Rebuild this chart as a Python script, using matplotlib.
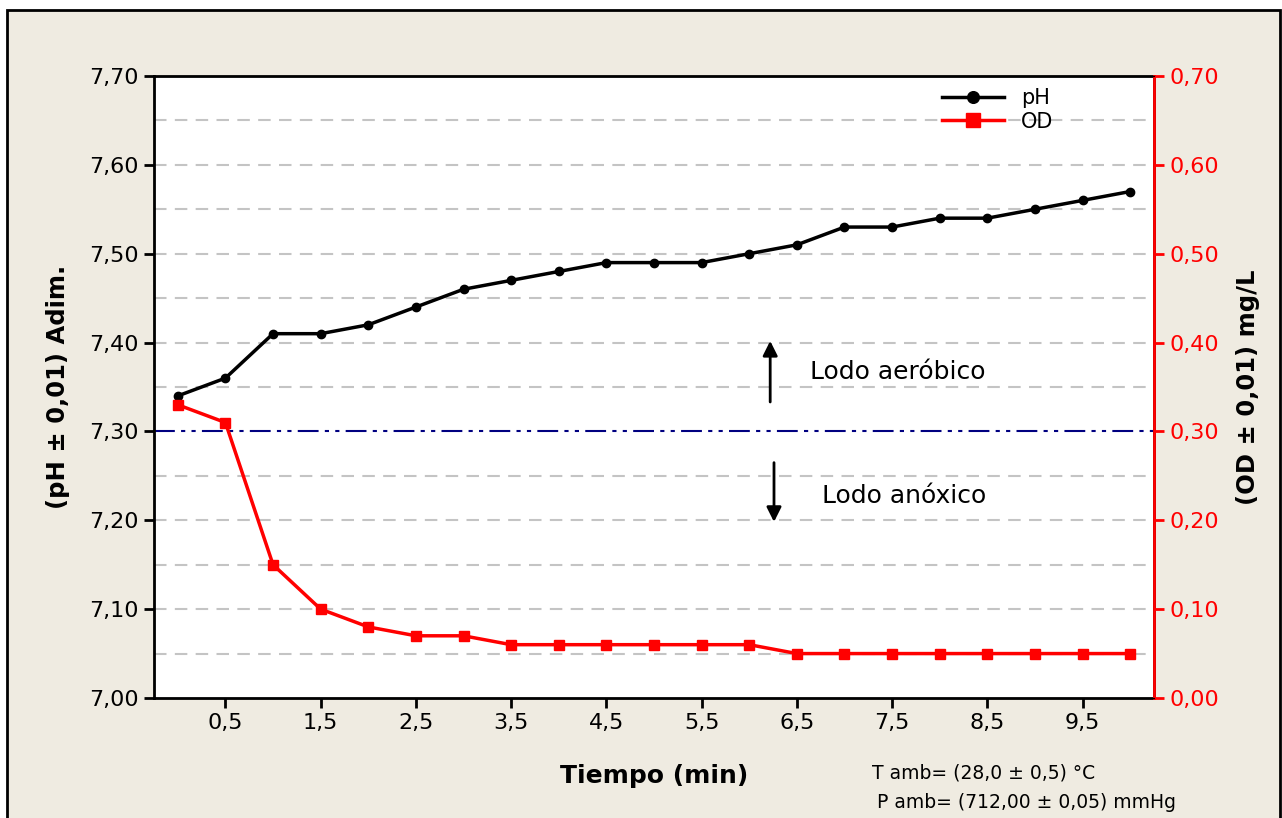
import numpy as np
import matplotlib.pyplot as plt
from matplotlib.patches import Rectangle

# datos
tiempo = [0, 0.5, 1, 1.5, 2, 2.5, 3, 3.5, 4, 4.5, 5, 5.5, 6, 6.5, 7, 7.5, 8, 8.5, 9, 9.5, 10]
ph = [7.34, 7.36, 7.41, 7.41, 7.42, 7.44, 7.46, 7.47, 7.48, 7.49, 7.49, 7.49, 7.50,
      7.51, 7.53, 7.53, 7.54, 7.54, 7.55, 7.56, 7.57]
od = [0.33, 0.31, 0.15, 0.10, 0.08, 0.07, 0.07, 0.06, 0.06, 0.06, 0.06, 0.06, 0.06,
      0.05, 0.05, 0.05, 0.05, 0.05, 0.05, 0.05, 0.05]
x_ticks = [0.5, 1.5, 2.5, 3.5, 4.5, 5.5, 6.5, 7.5, 8.5, 9.5]
ph_ticks = [7.00, 7.10, 7.20, 7.30, 7.40, 7.50, 7.60, 7.70]
od_ticks = [0.00, 0.10, 0.20, 0.30, 0.40, 0.50, 0.60, 0.70]
limite = 7.30

beige = '#efebe1'
fs = 16

fig = plt.figure(figsize=(12.82, 8.18), dpi=100)
fig.patch.set_facecolor('white')
fig.patches.append(Rectangle((7 / 1282, -0.01), 1273 / 1282, 1 - 10 / 818 + 0.01,
                             transform=fig.transFigure, facecolor=beige,
                             edgecolor='black', linewidth=2, zorder=-1))

ax = fig.add_axes([154 / 1282, 1 - 698 / 818, 1000 / 1282, 622 / 818])
ax.set_facecolor('white')

# rejilla cada 0,05
for g in np.arange(7.05, 7.70, 0.05):
    if abs(g - limite) > 1e-6:
        ax.axhline(g, color='#c4c4c4', lw=1.5, ls=(0, (6, 4)), zorder=1)
ax.axhline(limite, color='#000080', lw=1.5, ls=(0, (10, 3, 2, 3, 2, 3)), zorder=2)

l1, = ax.plot(tiempo, ph, '-o', color='black', lw=2.5, ms=6, zorder=4, label='pH')
ax.set_xlim(-0.25, 10.25)
ax.set_ylim(7.0, 7.7)
ax.set_xticks(x_ticks)
ax.set_xticklabels([f'{v:.1f}'.replace('.', ',') for v in x_ticks], fontsize=fs)
ax.set_yticks(ph_ticks)
ax.set_yticklabels([f'{v:.2f}'.replace('.', ',') for v in ph_ticks], fontsize=fs)
ax.tick_params(direction='out', length=7, width=2, pad=4)
for s in ax.spines.values():
    s.set_linewidth(2)
ax.set_xlabel('Tiempo (min)', fontsize=18, fontweight='bold', labelpad=22)
ax.set_ylabel('(pH ± 0,01) Adim.', fontsize=17.5, fontweight='bold', labelpad=14)

ax2 = ax.twinx()
l2, = ax2.plot(tiempo, od, '-s', color='#ff0000', lw=2.5, ms=7, zorder=4, label='OD')
ax2.set_ylim(0, 0.7)
ax2.set_yticks(od_ticks)
ax2.set_yticklabels([f'{v:.2f}'.replace('.', ',') for v in od_ticks], fontsize=fs, color='#ff0000')
ax2.tick_params(direction='out', length=7, width=2, colors='#ff0000', pad=4)
ax2.spines['right'].set_color('#ff0000')
ax2.spines['right'].set_linewidth(2)
ax2.set_ylabel('(OD ± 0,01) mg/L', fontsize=17.5, fontweight='bold', labelpad=12)

# flechas y textos
ax.annotate('', xy=(6.22, 7.405), xytext=(6.22, 7.33),
            arrowprops=dict(arrowstyle='-|>', color='black', lw=2, mutation_scale=22))
ax.annotate('', xy=(6.26, 7.195), xytext=(6.26, 7.268),
            arrowprops=dict(arrowstyle='-|>', color='black', lw=2, mutation_scale=22))
ax.text(6.64, 7.367, 'Lodo aeróbico', fontsize=18, va='center')
ax.text(6.76, 7.227, 'Lodo anóxico', fontsize=18, va='center')

ax2.legend([l1, l2], ['pH', 'OD'], loc='upper left', bbox_to_anchor=(0.775, 1.0),
           frameon=False, fontsize=15, handlelength=3, borderaxespad=0.2,
           labelspacing=0.15, markerscale=1.4)

fig.text(872 / 1282, 1 - 773 / 818, 'T amb= (28,0 ± 0,5) °C', fontsize=13.5, va='center')
fig.text(877 / 1282, 1 - 802 / 818, 'P amb= (712,00 ± 0,05) mmHg', fontsize=13.5, va='center')

fig.savefig('out.png', dpi=100, facecolor=fig.get_facecolor())
